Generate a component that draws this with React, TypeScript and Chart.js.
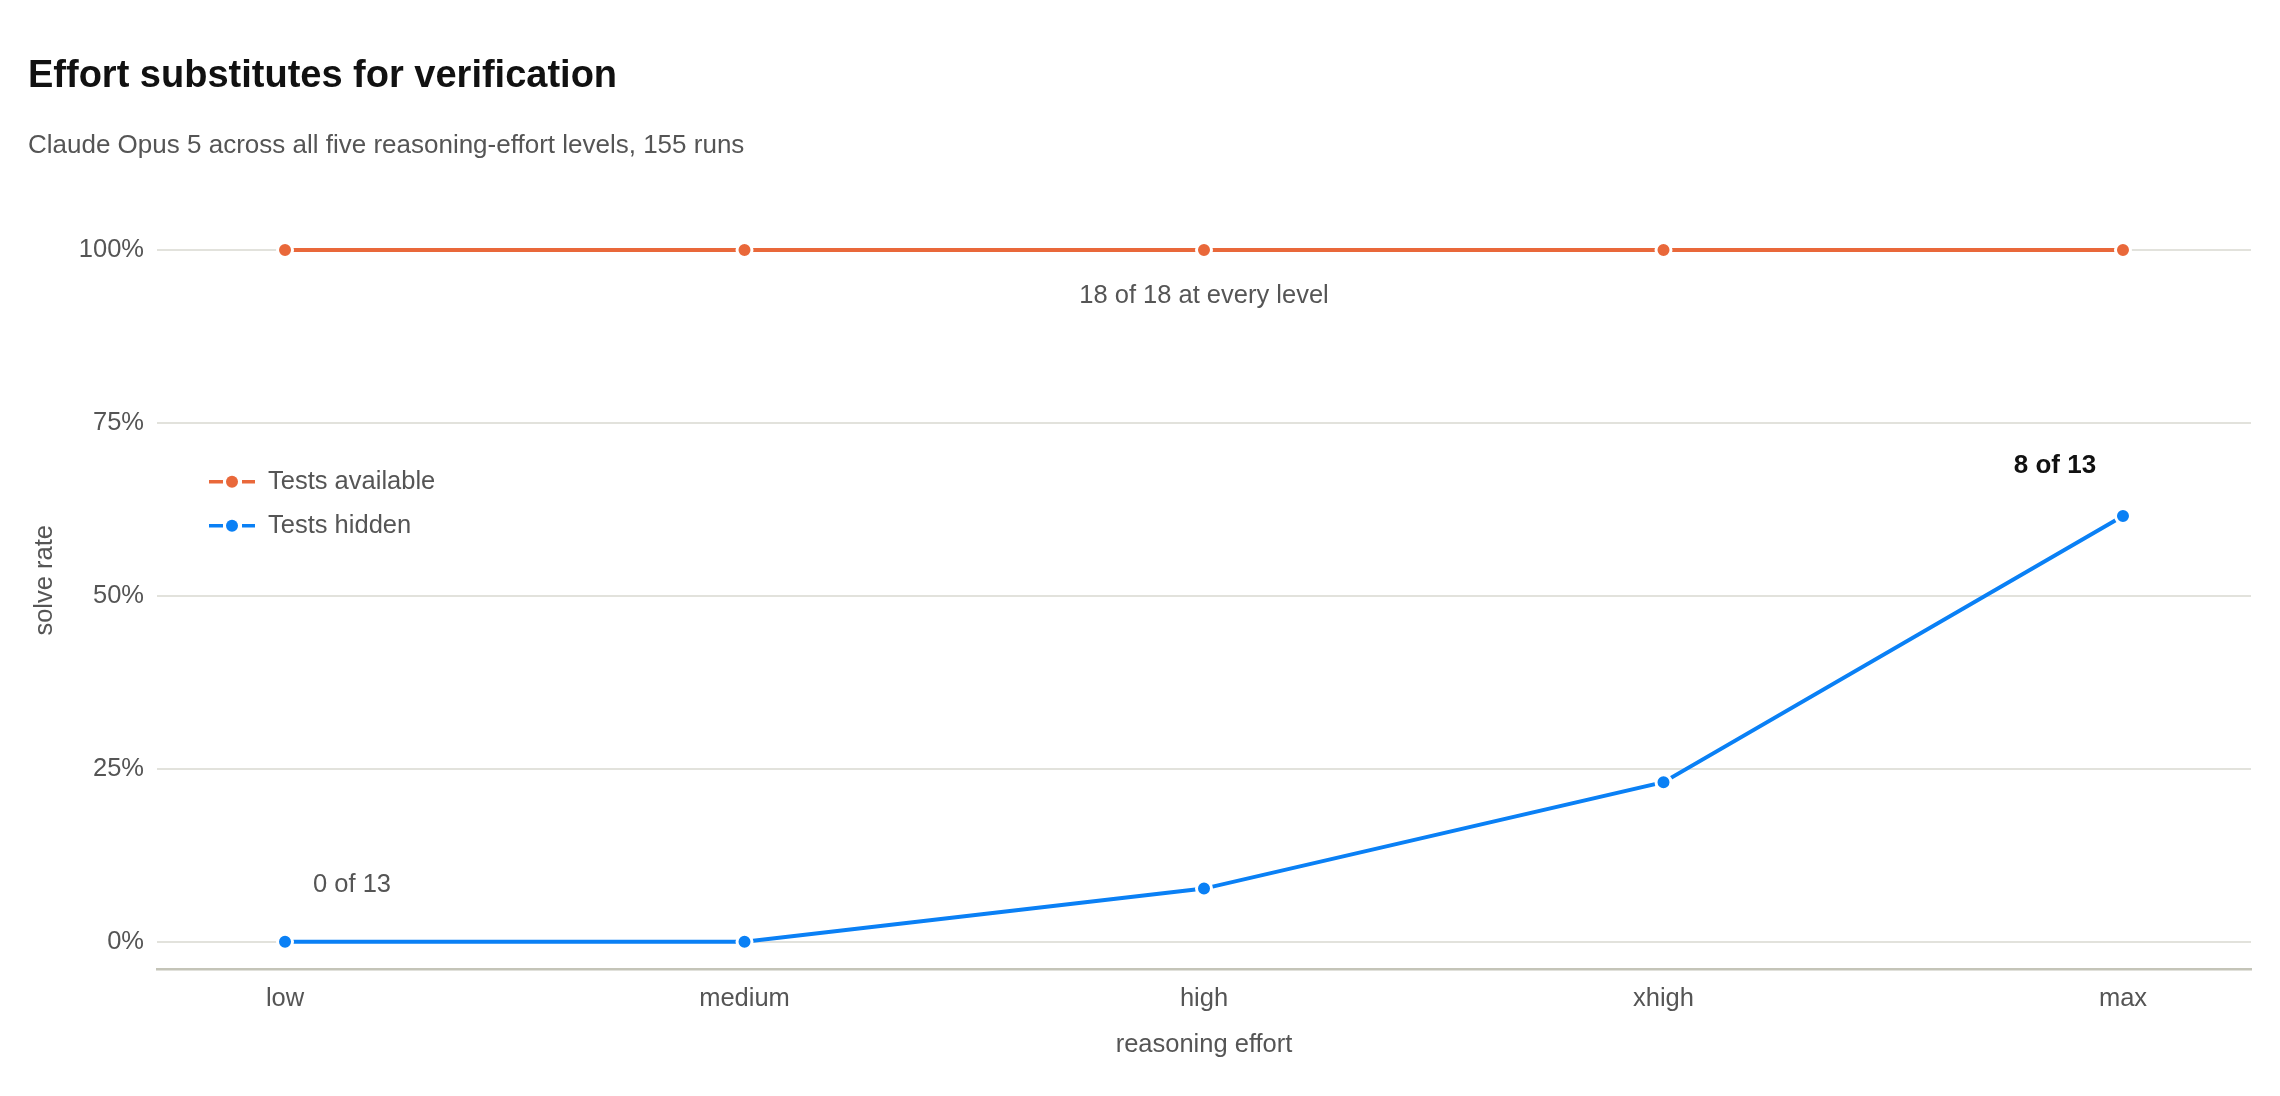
import React, { useEffect, useRef } from "react";
import { Chart, registerables } from "chart.js";

Chart.register(...registerables);

const FONT = '"Liberation Sans", Arial, Helvetica, sans-serif';
const TEXT_SIZE = 25.5;

// reasoning-effort levels (x axis)
const efforts = ["low", "medium", "high", "xhigh", "max"];

// solved counts per level
const availableSolved = [18, 18, 18, 18, 18];
const availableTotal = 18;
const hiddenSolved = [0, 0, 1, 3, 8];
const hiddenTotal = 13;

const yTicks = [0, 0.25, 0.5, 0.75, 1];

const seriesLabels = ["Tests available", "Tests hidden"];
const seriesColors = ["#E9683A", "#0A80F5"];

// text callouts attached to points (series, point index)
const notes = [
  { series: 0, index: 2, text: `${availableSolved[2]} of ${availableTotal} at every level`, dx: 0, dy: 46, bold: false },
  { series: 1, index: 0, text: `${hiddenSolved[0]} of ${hiddenTotal}`, dx: 67, dy: -57, bold: false },
  { series: 1, index: 4, text: `${hiddenSolved[4]} of ${hiddenTotal}`, dx: -68, dy: -50, bold: true },
];

// legend drawn inside the plot, line + dot icon
const insideLegend = {
  id: "insideLegend",
  afterDraw(chart: Chart) {
    const { ctx, chartArea } = chart;
    const x0 = chartArea.left + 52;
    chart.data.datasets.forEach((ds: any, i: number) => {
      const y = chartArea.top + 290 + i * 44;
      ctx.save();
      ctx.strokeStyle = ds.borderColor;
      ctx.lineWidth = 3.5;
      ctx.beginPath();
      ctx.moveTo(x0, y);
      ctx.lineTo(x0 + 14, y);
      ctx.moveTo(x0 + 33, y);
      ctx.lineTo(x0 + 46, y);
      ctx.stroke();
      ctx.fillStyle = ds.borderColor;
      ctx.beginPath();
      ctx.arc(x0 + 23, y, 6, 0, Math.PI * 2);
      ctx.fill();
      ctx.fillStyle = "#555";
      ctx.font = `${TEXT_SIZE}px ${FONT}`;
      ctx.textAlign = "left";
      ctx.textBaseline = "middle";
      ctx.fillText(ds.label, x0 + 59, y);
      ctx.restore();
    });
  },
};

const pointNotes = {
  id: "pointNotes",
  afterDatasetsDraw(chart: Chart) {
    const { ctx } = chart;
    notes.forEach((n) => {
      const pt: any = chart.getDatasetMeta(n.series).data[n.index];
      if (!pt) return;
      ctx.save();
      ctx.font = n.bold ? `bold 26px ${FONT}` : `${TEXT_SIZE}px ${FONT}`;
      ctx.fillStyle = n.bold ? "#111" : "#555";
      ctx.textAlign = "center";
      ctx.textBaseline = "middle";
      ctx.fillText(n.text, pt.x + n.dx, pt.y + n.dy);
      ctx.restore();
    });
  },
};

export default function App() {
  const canvasRef = useRef<HTMLCanvasElement>(null);

  useEffect(() => {
    document.body.style.margin = "0";
    if (!canvasRef.current) return;
    Chart.defaults.font.family = FONT;

    const makeSet = (i: number, solved: number[], total: number) => ({
      label: seriesLabels[i],
      data: solved.map((s, k) => ({ x: k, y: s / total })),
      borderColor: seriesColors[i],
      backgroundColor: seriesColors[i],
      borderWidth: 4,
      pointRadius: 7.5,
      pointBorderWidth: 3,
      pointBorderColor: "#fff",
      pointBackgroundColor: seriesColors[i],
      tension: 0,
    });

    const chart = new Chart(canvasRef.current, {
      type: "line",
      data: {
        datasets: [
          makeSet(0, availableSolved, availableTotal),
          makeSet(1, hiddenSolved, hiddenTotal),
        ],
      },
      plugins: [insideLegend, pointNotes],
      options: {
        animation: false,
        responsive: true,
        maintainAspectRatio: false,
        layout: { padding: { left: 28, right: 29, top: 53.5, bottom: 32 } },
        plugins: {
          legend: { display: false },
          tooltip: { enabled: false },
          title: {
            display: true,
            text: "Effort substitutes for verification",
            align: "start",
            color: "#111",
            font: { size: 38, weight: "bold" },
            padding: { top: 0, bottom: 31 },
          },
          subtitle: {
            display: true,
            text: "Claude Opus 5 across all five reasoning-effort levels, 155 runs",
            align: "start",
            color: "#555",
            font: { size: 26 },
            padding: { top: 0, bottom: 30.5 },
          },
        },
        scales: {
          x: {
            type: "linear",
            min: -0.2786,
            max: 4.2786,
            afterBuildTicks: (s: any) => {
              s.ticks = efforts.map((_, i) => ({ value: i }));
            },
            grid: { display: false },
            border: { display: true, color: "#C4C4B8", width: 2.5 },
            ticks: {
              callback: (v: any) => efforts[v],
              color: "#555",
              font: { size: TEXT_SIZE },
              padding: 7,
              maxRotation: 0,
              autoSkip: false,
            },
            title: {
              display: true,
              text: "reasoning effort",
              color: "#555",
              font: { size: TEXT_SIZE },
              padding: { top: 8, bottom: 4 },
            },
          },
          y: {
            min: -0.039,
            max: 1.084,
            afterBuildTicks: (s: any) => {
              s.ticks = yTicks.map((v) => ({ value: v }));
            },
            afterFit: (s: any) => {
              s.width = 129;
            },
            grid: { color: "#E2E2DC", lineWidth: 2, drawTicks: false },
            border: { display: false },
            ticks: {
              callback: (v: any) => `${Math.round(v * 100)}%`,
              color: "#555",
              font: { size: TEXT_SIZE },
              padding: 13,
            },
            title: {
              display: true,
              text: "solve rate",
              color: "#555",
              font: { size: TEXT_SIZE },
              padding: { top: 2, bottom: 0 },
            },
          },
        },
      },
    });

    return () => chart.destroy();
  }, []);

  return (
    <div style={{ position: "relative", width: 2280, height: 1096, background: "#fff" }}>
      <canvas ref={canvasRef} />
    </div>
  );
}
